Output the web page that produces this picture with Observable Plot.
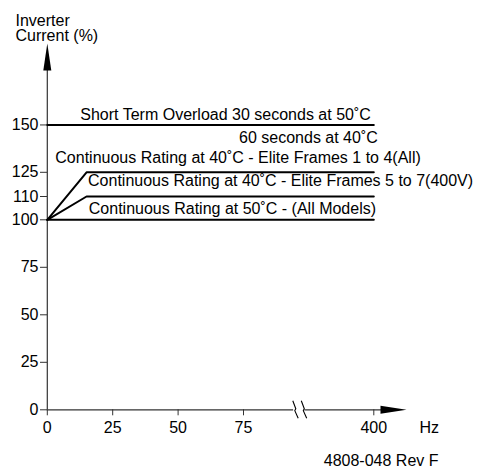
<!DOCTYPE html>
<html>
<head>
<meta charset="utf-8">
<script src="https://cdn.jsdelivr.net/npm/d3@7"></script>
<script src="https://cdn.jsdelivr.net/npm/@observablehq/plot@0.6"></script>
<style>
  html, body { margin: 0; padding: 0; background: #fff; }
</style>
</head>
<body>
<div id="chart"></div>
<script>
// ---- data ----
const yTickValues = [0, 25, 50, 75, 100, 110, 125, 150];
const xTickValues = [0, 25, 50, 75, 400];

const seriesNames = ["Short Term Overload", "Continuous 40˚C Frames 1-4", "Continuous 40˚C Frames 5-7", "Continuous 50˚C"];
const seriesFreq = [[0, 400], [0, 15, 400], [0, 15, 400], [0, 400]];
const seriesCurrent = [[150, 150], [100, 125, 125], [100, 110, 110], [100, 100]];

// axis break (in Hz, inside the compressed 75–400 segment)
const axisBreaks = [204.7, 225.9];
const axisGap = [200, 228];

const labelTexts = [
  "Short Term Overload 30 seconds at 50˚C",
  "60 seconds at 40˚C",
  "Continuous Rating at 40˚C - Elite Frames 1 to 4(All)",
  "Continuous Rating at 40˚C - Elite Frames 5 to 7(400V)",
  "Continuous Rating at 50˚C - (All Models)"
];

const xEnd = 425, yEnd = 193;

const arrowUp = {draw(ctx) { ctx.moveTo(0, 0); ctx.lineTo(4, 27); ctx.lineTo(-4, 27); ctx.closePath(); }};
const arrowRight = {draw(ctx) { ctx.moveTo(0, 0); ctx.lineTo(-26, -4); ctx.lineTo(-26, 4); ctx.closePath(); }};
const breakMark = {draw(ctx) { ctx.moveTo(-2.7, -9); ctx.lineTo(0.3, -1); ctx.lineTo(-0.7, 0.8); ctx.lineTo(2.7, 8.5); }};

const axisColor = "#333";
const txt = {fill: "black", fontSize: 16};

const seriesMarks = seriesNames.map((name, i) =>
  Plot.line(seriesFreq[i].map((f, j) => ({series: name, x: f, y: seriesCurrent[i][j]})),
    {x: "x", y: "y", stroke: "black", strokeWidth: 2})
);

const chart = Plot.plot({
  width: 482,
  height: 468,
  marginLeft: 47,
  marginRight: 76,
  marginTop: 43,
  marginBottom: 58.7,
  style: {fontFamily: "'Liberation Sans', Arial, Helvetica, sans-serif", fontSize: "16px", background: "white", color: "black"},
  // piecewise scales: the 75–400 Hz stretch is compressed (axis break), the 110 % level is drawn slightly raised as in the source
  x: {type: "linear", domain: [0, 75, 400, xEnd], range: [46.8, 243, 373.3, 406], axis: null},
  y: {type: "linear", domain: [0, 100, 110, 125, yEnd], range: [409.3, 219.3, 196, 171.8, 43], axis: null},
  marks: [
    // y axis line + arrow
    Plot.ruleX([0], {y1: 0, y2: yEnd - 10, stroke: axisColor, strokeWidth: 1.2}),
    Plot.dot([0], {x: 0, y: () => yEnd, symbol: arrowUp, fill: "black", stroke: "none"}),
    // x axis line (broken) + arrow
    Plot.ruleY([[0, axisGap[0]], [axisGap[1], 415]], {y: () => 0, x1: d => d[0], x2: d => d[1], stroke: axisColor, strokeWidth: 1.2}),
    Plot.dot([xEnd], {x: d => d, y: () => 0, symbol: arrowRight, fill: "black", stroke: "none"}),
    Plot.dot(axisBreaks, {x: d => d, y: () => 0, symbol: breakMark, fill: "none", stroke: "black", strokeWidth: 1.1}),
    // ticks and labels
    Plot.axisY({ticks: yTickValues, tickSize: 7, tickPadding: 2, stroke: axisColor, fontSize: 16, label: null, tickFormat: d => String(d)}),
    Plot.axisX({ticks: xTickValues, tickSize: 6, tickPadding: 6, stroke: axisColor, fontSize: 16, label: null, tickFormat: d => String(d)}),
    // series lines
    ...seriesMarks,
    // annotations
    Plot.text([labelTexts[0]], {x: () => 0, y: () => seriesCurrent[0][0], text: d => d, textAnchor: "start", lineAnchor: "bottom", dx: 33, dy: -4.5, ...txt}),
    Plot.text([labelTexts[1]], {x: () => 400, y: () => seriesCurrent[0][0], text: d => d, textAnchor: "end", lineAnchor: "bottom", dx: 4, dy: 18, ...txt}),
    Plot.text([labelTexts[2]], {x: () => 0, y: () => seriesCurrent[1][1], text: d => d, textAnchor: "start", lineAnchor: "bottom", dx: 8, dy: -9.5, ...txt}),
    Plot.text([labelTexts[3]], {x: () => seriesFreq[2][1], y: () => seriesCurrent[1][1], text: d => d, textAnchor: "start", lineAnchor: "bottom", dx: 1.5, dy: 13.2, ...txt}),
    Plot.text([labelTexts[4]], {x: () => seriesFreq[3][0], y: () => seriesCurrent[3][0], text: d => d, textAnchor: "start", lineAnchor: "bottom", dx: 41.5, dy: -6, ...txt}),
    Plot.text(["Inverter\nCurrent (%)"], {frameAnchor: "top-left", text: d => d, textAnchor: "start", lineAnchor: "bottom", lineHeight: 0.98, dx: -32, dy: -2.3, ...txt}),
    Plot.text(["Hz"], {x: () => xEnd, y: () => 0, text: d => d, textAnchor: "start", lineAnchor: "top", dx: 13, dy: 12, ...txt}),
    Plot.text(["4808-048 Rev F"], {x: () => xEnd, y: () => 0, text: d => d, textAnchor: "end", lineAnchor: "top", dx: 32, dy: 45, ...txt})
  ]
});
document.getElementById("chart").appendChild(chart);
</script>
</body>
</html>
